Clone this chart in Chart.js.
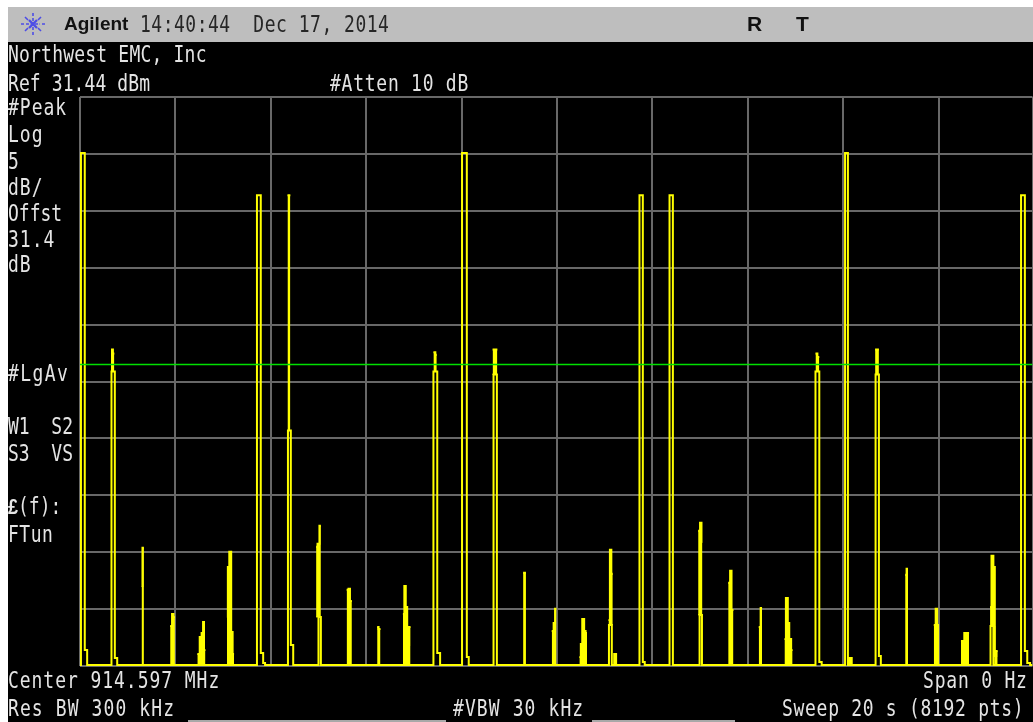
<!DOCTYPE html>
<html>
<head>
<meta charset="utf-8">
<title>Agilent sweep</title>
<script src="https://cdn.jsdelivr.net/npm/chart.js@4/dist/chart.umd.min.js"></script>
<style>
  html, body { margin: 0; padding: 0; background: #fff; overflow: hidden; }
  #screen { position: relative; width: 1033px; height: 722px; overflow: hidden; }
  #panel { position: absolute; left: 8px; top: 42px; width: 1025px; height: 680px; background: #000; }
  #titlebar { position: absolute; left: 8px; top: 7px; width: 1025px; height: 35px; background: #bebebe; }
  #chartCanvas { position: absolute; left: 0; top: 0; }
  .strip { position: absolute; top: 720px; height: 2px; background: #a8a8a8; }
  .t { position: absolute; font: 18px/22px "DejaVu Sans Mono", monospace; color: #e4e4e4; white-space: pre; transform: scaleY(1.25); transform-origin: 0 50%; }
  .d { color: #262626; }
  .b { font: bold 19px/22px "Liberation Sans", sans-serif; color: #111; transform: none; }
</style>
</head>
<body>
<div id="screen">
  <div id="panel"></div>
  <div id="titlebar"></div>
  <div class="strip" style="left:188px;width:258px"></div>
  <div class="strip" style="left:592px;width:143px"></div>
  <canvas id="chartCanvas" width="1033" height="722"></canvas>

  <svg style="position:absolute;left:20px;top:12px" width="26" height="24" viewBox="-13 -12 26 24">
    <g stroke="#3a3aee" stroke-width="1.6" fill="none" opacity=".85">
      <path d="M0-11V-8M0-6V6M0 8V11M-12 0H-9M-7 0H7M9 0H12" stroke-dasharray="3 1.5"/>
      <path d="M-8-7-5-4M8-7 5-4M-8 7-5 4M8 7 5 4"/>
      <path d="M-4-4 4 4M4-4-4 4" stroke-width="2.4"/>
    </g>
  </svg>
  <div class="t b" style="left:64px;top:13px">Agilent</div>
  <div class="t d" style="left:140px;top:13px;letter-spacing:.5px">14:40:44  Dec 17, 2014</div>
  <div class="t b" style="left:747px;top:13px;font-size:21px">R</div>
  <div class="t b" style="left:796px;top:13px;font-size:21px">T</div>

  <div class="t" style="left:8px;top:43px;letter-spacing:.2px">Northwest EMC, Inc</div>
  <div class="t" style="left:8px;top:72px;letter-spacing:.1px">Ref 31.44 dBm</div>
  <div class="t" style="left:330px;top:72px;letter-spacing:.75px">#Atten 10 dB</div>

  <div class="t" style="left:8px;top:96px;letter-spacing:1px">#Peak</div>
  <div class="t" style="left:8px;top:123px;letter-spacing:1px">Log</div>
  <div class="t" style="left:8px;top:150px">5</div>
  <div class="t" style="left:8px;top:176px;letter-spacing:1px">dB/</div>
  <div class="t" style="left:8px;top:202px">Offst</div>
  <div class="t" style="left:8px;top:228px;letter-spacing:1px">31.4</div>
  <div class="t" style="left:8px;top:253px;letter-spacing:1px">dB</div>
  <div class="t" style="left:8px;top:362px;letter-spacing:1.4px">#LgAv</div>
  <div class="t" style="left:8px;top:415px">W1  S2</div>
  <div class="t" style="left:8px;top:442px">S3  VS</div>
  <div class="t" style="left:8px;top:495px"><b style="font-family:'Liberation Sans',sans-serif;font-weight:700">£</b>(f):</div>
  <div class="t" style="left:8px;top:523px;letter-spacing:.5px">FTun</div>

  <div class="t" style="left:8px;top:669px;letter-spacing:.95px">Center 914.597 MHz</div>
  <div class="t" style="left:8px;top:697px;letter-spacing:1.1px">Res BW 300 kHz</div>
  <div class="t" style="left:453px;top:697px;letter-spacing:1.1px">#VBW 30 kHz</div>
  <div class="t" style="left:923px;top:669px;letter-spacing:.8px">Span 0 Hz</div>
  <div class="t" style="left:782px;top:697px;letter-spacing:.7px">Sweep 20 s (8192 pts)</div>
</div>

<script>
// ── sweep readings: time in s, level in dBm ──
// a level holds from its own time until the next time
const traceTime = [0, 0.02, 0.10, 0.15, 0.66, 0.73, 0.78, 3.71, 3.79, 3.84, 3.88, 4.36, 4.42, 4.47, 5.00, 5.05,
  7.41, 7.49, 7.55, 8.01, 8.11, 8.15, 8.67, 8.74, 11.09, 11.15, 11.20, 11.24, 11.73, 11.80, 11.84, 12.36, 12.43,
  12.99, 13.04, 15.42, 15.50, 15.55, 16.04, 16.10, 16.14, 16.18, 16.68, 16.75, 16.79, 19.09, 19.15,
  19.73, 19.81, 19.86, 19.92, 19.97];
const traceLevel = [-18.47, 26.51, -17.15, -18.47, 7.32, -17.86, -18.47, 22.81, -17.42, -18.30, -18.47, 2.13, -16.71, -18.47, -14.25, -18.47,
  7.32, -17.42, -18.47, 26.51, -17.77, -18.47, 7.06, -18.47, -14.95, -18.47, -17.51, -18.47, 22.81, -18.21, -18.47, 22.81, -18.47,
  -14.07, -18.47, 7.32, -18.21, -18.47, 26.51, -18.47, -17.86, -18.47, 7.06, -17.68, -18.47, -15.04, -18.47,
  22.81, -17.24, -18.30, -18.47, -18.47];

// solid parts of the bursts: filled between burstTop and burstFloor, null ends a burst
const burstTime = [0.65, 0.69, 0.72, 0.72, 1.29, 1.31, 1.34, 1.34, 1.89, 1.93, 1.96, 1.99, 1.99,
  2.46, 2.51, 2.55, 2.58, 2.60, 2.63, 2.63, 3.08, 3.10, 3.13, 3.17, 3.20, 3.23, 3.23, 4.35, 4.41, 4.41,
  4.95, 4.98, 5.02, 5.05, 5.05, 5.59, 5.63, 5.66, 5.70, 5.70, 6.23, 6.26, 6.30, 6.30,
  6.77, 6.80, 6.83, 6.86, 6.90, 6.93, 6.93, 7.41, 7.45, 7.48, 7.48, 8.65, 8.75, 8.75, 9.29, 9.35, 9.35,
  9.89, 9.93, 9.96, 9.99, 9.99, 10.47, 10.50, 10.53, 10.57, 10.60, 10.63, 10.63, 11.08, 11.11, 11.14, 11.17, 11.17,
  12.96, 13.00, 13.03, 13.05, 13.05, 13.59, 13.63, 13.66, 13.70, 13.70, 14.23, 14.27, 14.30, 14.30,
  14.77, 14.80, 14.84, 14.87, 14.91, 14.94, 14.94, 15.42, 15.46, 15.50, 15.50, 16.67, 16.75, 16.75, 17.30, 17.33, 17.36, 17.36,
  17.90, 17.94, 17.97, 18.01, 18.01, 18.47, 18.50, 18.54, 18.57, 18.60, 18.64, 18.64,
  19.08, 19.11, 19.15, 19.18, 19.21, 19.24, 19.24];
const burstTop = [9.26, 8.90, 8.90, null, -11.52, -8.17, -8.17, null, -15.04, -13.98, -14.25, -14.25, null,
  -17.51, -16.01, -15.66, -14.69, -17.15, -17.15, null, -14.25, -9.85, -8.53, -15.57, -17.51, -17.51, null, 22.81, 22.81, null,
  -8.09, -7.82, -6.24, -6.24, null, -11.87, -11.78, -12.84, -12.84, null, -15.13, -15.30, -15.30, null,
  -13.98, -11.52, -13.37, -16.71, -15.13, -15.13, null, 9.00, 8.80, 8.80, null, 9.26, 9.26, null, -10.37, -10.37, null,
  -15.48, -14.78, -13.54, -13.54, null, -17.77, -16.62, -14.42, -15.48, -15.66, -15.66, null, -14.51, -8.35, -10.46, -10.46, null,
  -6.68, -5.97, -7.65, -7.65, null, -11.25, -10.20, -13.63, -13.63, null, -15.13, -13.46, -13.46, null,
  -16.18, -12.58, -14.78, -16.18, -17.15, -17.15, null, 8.90, 8.60, 8.60, null, 9.26, 9.26, null, -10.55, -10.02, -10.02, null,
  -14.95, -13.54, -14.95, -14.95, null, -16.36, -16.98, -15.66, -16.27, -15.66, -15.66, null,
  -13.37, -8.88, -9.85, -17.68, -17.24, -17.24, null];
const burstFloor = [7.32, 7.32, 7.32, null, -18.47, -18.47, -18.47, null, -18.47, -18.47, -18.47, -18.47, null,
  -18.47, -18.47, -18.47, -18.47, -18.47, -18.47, null, -18.47, -18.47, -18.47, -18.47, -18.47, -18.47, null, 2.13, 2.13, null,
  -14.25, -14.25, -14.25, -14.25, null, -18.47, -18.47, -18.47, -18.47, null, -18.47, -18.47, -18.47, null,
  -18.47, -18.47, -18.47, -18.47, -18.47, -18.47, null, 7.32, 7.32, 7.32, null, 7.06, 7.06, null, -18.47, -18.47, null,
  -18.47, -18.47, -18.47, -18.47, null, -18.47, -18.47, -18.47, -18.47, -18.47, -18.47, null, -14.95, -14.95, -14.95, -14.95, null,
  -14.07, -14.07, -14.07, -14.07, null, -18.47, -18.47, -18.47, -18.47, null, -18.47, -18.47, -18.47, null,
  -18.47, -18.47, -18.47, -18.47, -18.47, -18.47, null, 7.32, 7.32, 7.32, null, 7.06, 7.06, null, -18.47, -18.47, -18.47, null,
  -18.47, -18.47, -18.47, -18.47, null, -18.47, -18.47, -18.47, -18.47, -18.47, -18.47, null,
  -15.04, -15.04, -15.04, -18.47, -18.47, -18.47, null];

// green display line
const displayLineTime = [0, 19.97];
const displayLineLevel = [7.94, 7.94];

const timeTicks = [0, 2, 4, 6, 8, 10, 12, 14, 16, 18, 19.97];
const levelTicks = [-18.56, -13.56, -8.56, -3.56, 1.44, 6.44, 11.44, 16.44, 21.44, 26.44, 31.44];

const toPoints = (xs, ys) => xs.map((x, i) => ({ x, y: ys[i] }));
const useTicks = values => scale => { scale.ticks = values.map(value => ({ value })); };

const YELLOW = '#ffff00';
const GRID = '#686868';

new Chart(document.getElementById('chartCanvas').getContext('2d'), {
  type: 'line',
  data: {
    datasets: [
      { label: 'Display line', data: toPoints(displayLineTime, displayLineLevel), borderColor: '#00e000', borderWidth: 1.6, order: 0 },
      { label: 'Trace', data: toPoints(traceTime, traceLevel), borderColor: YELLOW, borderWidth: 2, stepped: true, order: 1 },
      { label: 'Burst top', data: toPoints(burstTime, burstTop), borderColor: YELLOW, borderWidth: 2, stepped: true, fill: '+1', backgroundColor: YELLOW, order: 2 },
      { label: 'Burst floor', data: toPoints(burstTime, burstFloor), borderColor: YELLOW, borderWidth: 1, stepped: true, order: 3 }
    ]
  },
  options: {
    responsive: false,
    animation: false,
    parsing: false,
    normalized: true,
    layout: { padding: { left: 80, top: 97, right: 0.5, bottom: 56 } },
    elements: { point: { radius: 0 }, line: { tension: 0, borderCapStyle: 'butt' } },
    plugins: { legend: { display: false }, tooltip: { enabled: false } },
    scales: {
      x: {
        type: 'linear', min: 0, max: 19.97,
        afterBuildTicks: useTicks(timeTicks),
        ticks: { display: false },
        grid: { color: GRID, lineWidth: 2, drawTicks: false },
        border: { display: false }
      },
      y: {
        type: 'linear', min: -18.56, max: 31.44,
        afterBuildTicks: useTicks(levelTicks),
        ticks: { display: false },
        grid: { color: GRID, lineWidth: 2, drawTicks: false },
        border: { display: false }
      }
    }
  }
});
</script>
</body>
</html>
